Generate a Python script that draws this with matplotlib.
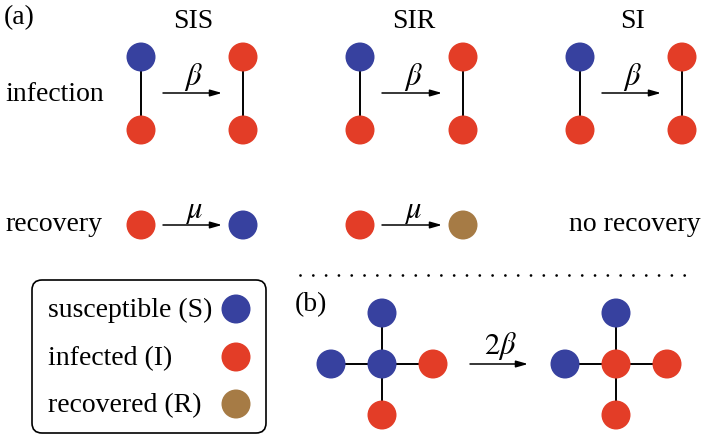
import matplotlib.pyplot as plt
from matplotlib.patches import Circle, FancyBboxPatch

plt.rcParams['font.family'] = ['Liberation Serif', 'DejaVu Serif']
plt.rcParams['mathtext.fontset'] = 'stix'

# node colours for the three states
S_COL = '#37419f'
I_COL = '#e33d27'
R_COL = '#a67b45'

models = ['SIS', 'SIR', 'SI']
model_x = [193, 414, 632]
# infection: x of the pair before/after, colours top/bottom
inf_before_x = [141, 360, 580]
inf_after_x = [243, 463, 682]
inf_before_cols = [(S_COL, I_COL)] * 3
inf_after_cols = [(I_COL, I_COL)] * 3
# recovery: colour after recovery (None = no recovery)
rec_after_cols = [S_COL, R_COL, None]

legend_labels = ['susceptible (S)', 'infected (I)', 'recovered (R)']
legend_cols = [S_COL, I_COL, R_COL]
legend_y = [309, 357, 404]

# star graph in (b): centre, top, bottom, left, right
star_before_cols = [S_COL, S_COL, I_COL, S_COL, I_COL]
star_after_cols = [I_COL, S_COL, I_COL, S_COL, I_COL]

R = 14.5
FS = 20
MFS = 22

fig = plt.figure(figsize=(7.04, 4.38), dpi=100)
ax = fig.add_axes([0, 0, 1, 1])
ax.set_xlim(0, 704)
ax.set_ylim(438, 0)
ax.axis('off')


def node(x, y, c):
    ax.add_patch(Circle((x, y), R, color=c, lw=0, zorder=3))


def edge(x0, y0, x1, y1):
    ax.plot([x0, x1], [y0, y1], color='k', lw=1.4, zorder=2)


def arrow(x0, x1, y, label, ly):
    ax.annotate('', xy=(x1, y), xytext=(x0, y),
                arrowprops=dict(arrowstyle='-|>,head_length=0.7,head_width=0.2',
                                lw=1.1, color='k', shrinkA=0, shrinkB=0))
    ax.text((x0 + x1) / 2 + 1, ly, label, fontsize=MFS, ha='center', va='center')


ax.text(4, 24, '(a)', fontsize=FS, va='baseline')
ax.text(5, 101, 'infection', fontsize=FS, va='baseline')
ax.text(5, 231, 'recovery', fontsize=FS, va='baseline')

ytop, ybot, yrec = 57, 130, 225
for i, name in enumerate(models):
    ax.text(model_x[i], 28, name, fontsize=FS, ha='center', va='baseline')
    xb, xa = inf_before_x[i], inf_after_x[i]
    edge(xb, ytop, xb, ybot)
    edge(xa, ytop, xa, ybot)
    node(xb, ytop, inf_before_cols[i][0])
    node(xb, ybot, inf_before_cols[i][1])
    node(xa, ytop, inf_after_cols[i][0])
    node(xa, ybot, inf_after_cols[i][1])
    arrow(xb + 22, xa - 21, 93, r'$\beta$', 77)

    if rec_after_cols[i] is None:
        ax.text(701, 231, 'no recovery', fontsize=FS, ha='right', va='baseline')
    else:
        node(xb, yrec, I_COL)
        node(xa, yrec, rec_after_cols[i])
        arrow(xb + 22, xa - 21, yrec, r'$\mu$', 211)

# dotted separator
ax.plot([300, 688], [275, 275], color='k', lw=2,
        ls=(0, (0.01, 4.6)), dash_capstyle='round')

# legend box
ax.add_patch(FancyBboxPatch((32, 280), 234, 153,
                            boxstyle='round,pad=0,rounding_size=10',
                            fc='none', ec='k', lw=1.2))
for lab, c, y in zip(legend_labels, legend_cols, legend_y):
    ax.text(48, y + 8, lab, fontsize=FS, va='baseline')
    node(236, y, c)

# (b) star graphs
ax.text(295, 311, '(b)', fontsize=FS, va='baseline')
d = 51
offsets = [(0, 0), (0, -d), (0, d), (-d, 0), (d, 0)]
for cx, cols in [(382, star_before_cols), (616, star_after_cols)]:
    cy = 364
    for dx, dy in offsets[1:]:
        edge(cx, cy, cx + dx, cy + dy)
    for (dx, dy), c in zip(offsets, cols):
        node(cx + dx, cy + dy, c)
arrow(470, 528, 364, r'$2\beta$', 346)

fig.savefig('out.png', dpi=100)
